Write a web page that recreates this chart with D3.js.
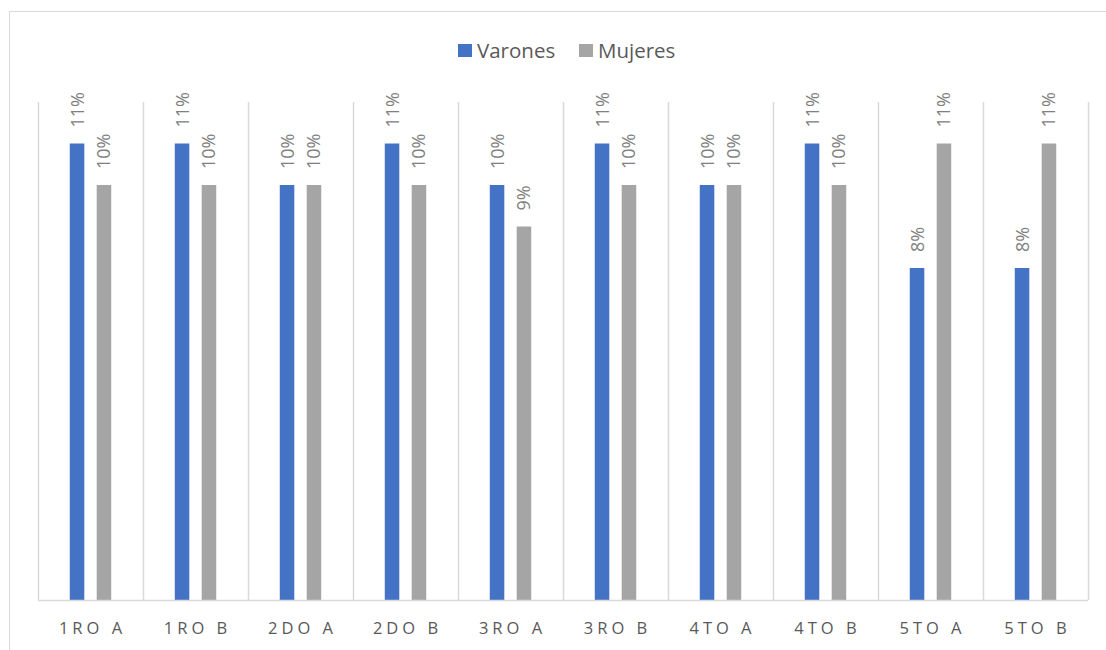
<!DOCTYPE html>
<html>
  <head>
    <meta charset="utf-8">
    <script type="text/javascript" src="https://d3js.org/d3.v7.min.js"></script>
    <title></title>
  </head>
  <style media="screen">
    body { margin: 0; background: #fff; }
    text { font-family: "Open Sans", "DejaVu Sans", sans-serif; }
  </style>
  <body>

    <script type="text/javascript">

    // data
    var categories = ["1RO A", "1RO B", "2DO A", "2DO B", "3RO A", "3RO B", "4TO A", "4TO B", "5TO A", "5TO B"];
    var seriesNames = ["Varones", "Mujeres"];
    var varones = [0.11, 0.11, 0.10, 0.11, 0.10, 0.11, 0.10, 0.11, 0.08, 0.08];
    var mujeres = [0.10, 0.10, 0.10, 0.10, 0.09, 0.10, 0.10, 0.10, 0.11, 0.11];
    var colors = ["#4472C4", "#A5A5A5"];

    var width = 1106, height = 650;
    var margin = {top: 102, left: 38, right: 18, bottom: 50};

    var svg = d3.select("body").append("svg")
        .attr("width", width)
        .attr("height", height);

    // chart border
    svg.append("rect")
        .attr("x", 9.5).attr("y", 11.5)
        .attr("width", width + 20).attr("height", height + 20)
        .attr("fill", "none")
        .attr("stroke", "#d9d9d9");

    var x = d3.scaleBand()
        .domain(categories)
        .range([margin.left, width - margin.right]);

    var x1 = d3.scaleBand()
        .domain(seriesNames)
        .range([0, x.bandwidth()])
        .paddingInner(0.46)
        .paddingOuter(1.18);

    var y = d3.scaleLinear()
        .domain([0, 0.12])
        .range([height - margin.bottom, margin.top]);

    // vertical gridlines between categories
    var edges = categories.map(function(c) { return x(c); });
    edges.push(x.range()[1]);
    svg.append("g").selectAll("line")
      .data(edges)
      .enter().append("line")
        .attr("x1", function(d) { return Math.round(d) + 0.5; })
        .attr("x2", function(d) { return Math.round(d) + 0.5; })
        .attr("y1", y(0.12))
        .attr("y2", y(0))
        .attr("stroke", "#d9d9d9")
        .attr("stroke-width", 1.5);

    var rows = categories.map(function(c, i) {
      return {cat: c, values: [{s: "Varones", v: varones[i]}, {s: "Mujeres", v: mujeres[i]}]};
    });

    var groups = svg.append("g").selectAll("g")
      .data(rows)
      .enter().append("g")
        .attr("transform", function(d) { return "translate(" + x(d.cat) + ",0)"; });

    groups.selectAll("rect")
      .data(function(d) { return d.values; })
      .enter().append("rect")
        .attr("x", function(d) { return x1(d.s); })
        .attr("y", function(d) { return y(d.v); })
        .attr("width", x1.bandwidth())
        .attr("height", function(d) { return y(0) - y(d.v); })
        .attr("fill", function(d, i) { return colors[i]; });

    // data labels, rotated
    groups.selectAll("text")
      .data(function(d) { return d.values; })
      .enter().append("text")
        .attr("transform", function(d) {
          return "translate(" + (x1(d.s) + x1.bandwidth() / 2 + 6.5) + "," + (y(d.v) - 16) + ") rotate(-90)";
        })
        .attr("font-size", 18)
        .attr("fill", "#808080")
        .text(function(d) { return Math.round(d.v * 100) + "%"; });

    // baseline
    svg.append("line")
        .attr("x1", margin.left).attr("x2", width - margin.right)
        .attr("y1", y(0) + 0.5).attr("y2", y(0) + 0.5)
        .attr("stroke", "#d9d9d9")
        .attr("stroke-width", 1.5);

    // x axis labels
    svg.append("g").selectAll("text")
      .data(categories)
      .enter().append("text")
        .attr("x", function(d) { return x(d) + x.bandwidth() / 2 + 2; })
        .attr("y", 634)
        .attr("text-anchor", "middle")
        .attr("font-size", 16.5)
        .attr("letter-spacing", 4)
        .attr("fill", "#595959")
        .text(function(d) { return d; });

    // legend
    var legendX = [458, 579];
    var legend = svg.append("g").selectAll("g")
      .data(seriesNames)
      .enter().append("g")
        .attr("transform", function(d, i) { return "translate(" + legendX[i] + ",44)"; });
    legend.append("rect")
        .attr("width", 14).attr("height", 13)
        .attr("fill", function(d, i) { return colors[i]; });
    legend.append("text")
        .attr("x", 19).attr("y", 14)
        .attr("font-size", 20.5)
        .attr("fill", "#595959")
        .text(function(d) { return d; });

    </script>

  </body>
</html>
